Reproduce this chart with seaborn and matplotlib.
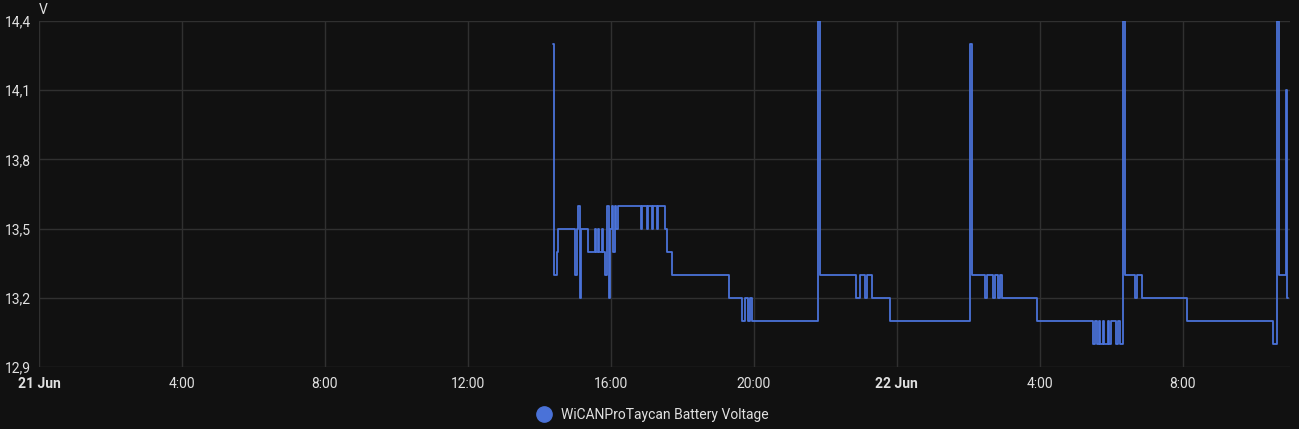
import numpy as np
import pandas as pd
import matplotlib
matplotlib.use("Agg")
import matplotlib.pyplot as plt
from matplotlib.lines import Line2D
import seaborn as sns

# hours since 21 Jun 00:00 and battery voltage (step data)
hours = [14.38, 14.41, 14.49, 14.53, 14.99, 15.05, 15.08, 15.13, 15.16,
         15.36, 15.55, 15.58, 15.64, 15.67, 15.75, 15.78, 15.83, 15.90, 15.94,
         15.97, 16.03, 16.06, 16.11, 16.14, 16.20,
         16.84, 16.87, 17.01, 17.04, 17.15, 17.18, 17.29, 17.32,
         17.51, 17.57, 17.71, 19.30, 19.66, 19.75, 19.83, 19.89, 19.94,
         21.80, 21.84, 22.85, 22.97, 23.10, 23.16, 23.30, 23.80,
         26.06, 26.10, 26.46, 26.52, 26.69, 26.74, 26.83, 26.88, 26.94, 27.92,
         29.48, 29.55, 29.61, 29.66, 29.69, 29.78, 29.81, 29.90, 29.93, 29.99,
         30.13, 30.18, 30.24, 30.34, 30.38, 30.66, 30.71, 30.85, 32.11,
         34.52, 34.64, 34.68, 34.90, 34.93, 34.95]
volts = [14.3, 13.3, 13.4, 13.5, 13.3, 13.5, 13.6, 13.2, 13.5,
         13.4, 13.5, 13.4, 13.5, 13.4, 13.5, 13.4, 13.3, 13.6, 13.2,
         13.5, 13.6, 13.4, 13.6, 13.5, 13.6,
         13.5, 13.6, 13.5, 13.6, 13.5, 13.6, 13.5, 13.6,
         13.5, 13.4, 13.3, 13.2, 13.1, 13.2, 13.1, 13.2, 13.1,
         14.4, 13.3, 13.2, 13.3, 13.2, 13.3, 13.2, 13.1,
         14.3, 13.3, 13.2, 13.3, 13.2, 13.3, 13.2, 13.3, 13.2, 13.1,
         13.0, 13.1, 13.0, 13.1, 13.0, 13.1, 13.0, 13.1, 13.0, 13.1,
         13.0, 13.1, 13.0, 14.4, 13.3, 13.2, 13.3, 13.2, 13.1,
         13.0, 14.4, 13.3, 14.1, 13.2, 13.2]

x_ticks = [0, 4, 8, 12, 16, 20, 24, 28, 32]
x_labels = ["21 Jun", "4:00", "8:00", "12:00", "16:00", "20:00", "22 Jun", "4:00", "8:00"]
y_ticks = [12.9, 13.2, 13.5, 13.8, 14.1, 14.4]
series_name = "WiCANProTaycan Battery Voltage"

df = pd.DataFrame({"hours": hours, "volts": volts})

bg = "#111111"
grid = "#303030"
txt = "#e1e1e1"
blue = "#4a72d8"

sns.set_theme(style="dark", rc={"axes.facecolor": bg, "figure.facecolor": bg})
plt.rcParams["font.family"] = ["Roboto", "DejaVu Sans"]

fig = plt.figure(figsize=(12.99, 4.29), dpi=100)
ax = fig.add_axes([39 / 1299, 1 - 367 / 429, (1290 - 39) / 1299, (367 - 21) / 429])

sns.lineplot(data=df, x="hours", y="volts", drawstyle="steps-post", estimator=None,
             color=blue, lw=1.3, ax=ax, legend=False)

ax.set_xlim(0, 35.0)
ax.set_ylim(12.9, 14.4)
ax.set_xticks(x_ticks)
ax.set_xticklabels(x_labels)
ax.set_yticks(y_ticks)
ax.set_yticklabels([f"{v:.1f}".replace(".", ",") for v in y_ticks])
for lab in ax.get_xticklabels():
    if "Jun" in lab.get_text():
        lab.set_fontweight("bold")

ax.grid(True, color=grid, lw=1)
ax.set_axisbelow(True)
for s in ax.spines.values():
    s.set_visible(False)
ax.tick_params(length=0, colors=txt, labelsize=10)
ax.tick_params(axis="x", pad=7)
ax.tick_params(axis="y", pad=6)
ax.set_xlabel("")
ax.set_ylabel("")

fig.text(43 / 1299, 1 - 10 / 429, "V", color=txt, fontsize=10, ha="center", va="center")

handle = Line2D([], [], marker="o", ls="", markersize=11, markerfacecolor=blue,
                markeredgecolor=blue)
fig.legend([handle], [series_name], loc="center", bbox_to_anchor=(0.5, 1 - 415 / 429),
           frameon=False, labelcolor=txt, fontsize=10, handletextpad=0.2)

fig.savefig("out.png", dpi=100, facecolor=bg)
